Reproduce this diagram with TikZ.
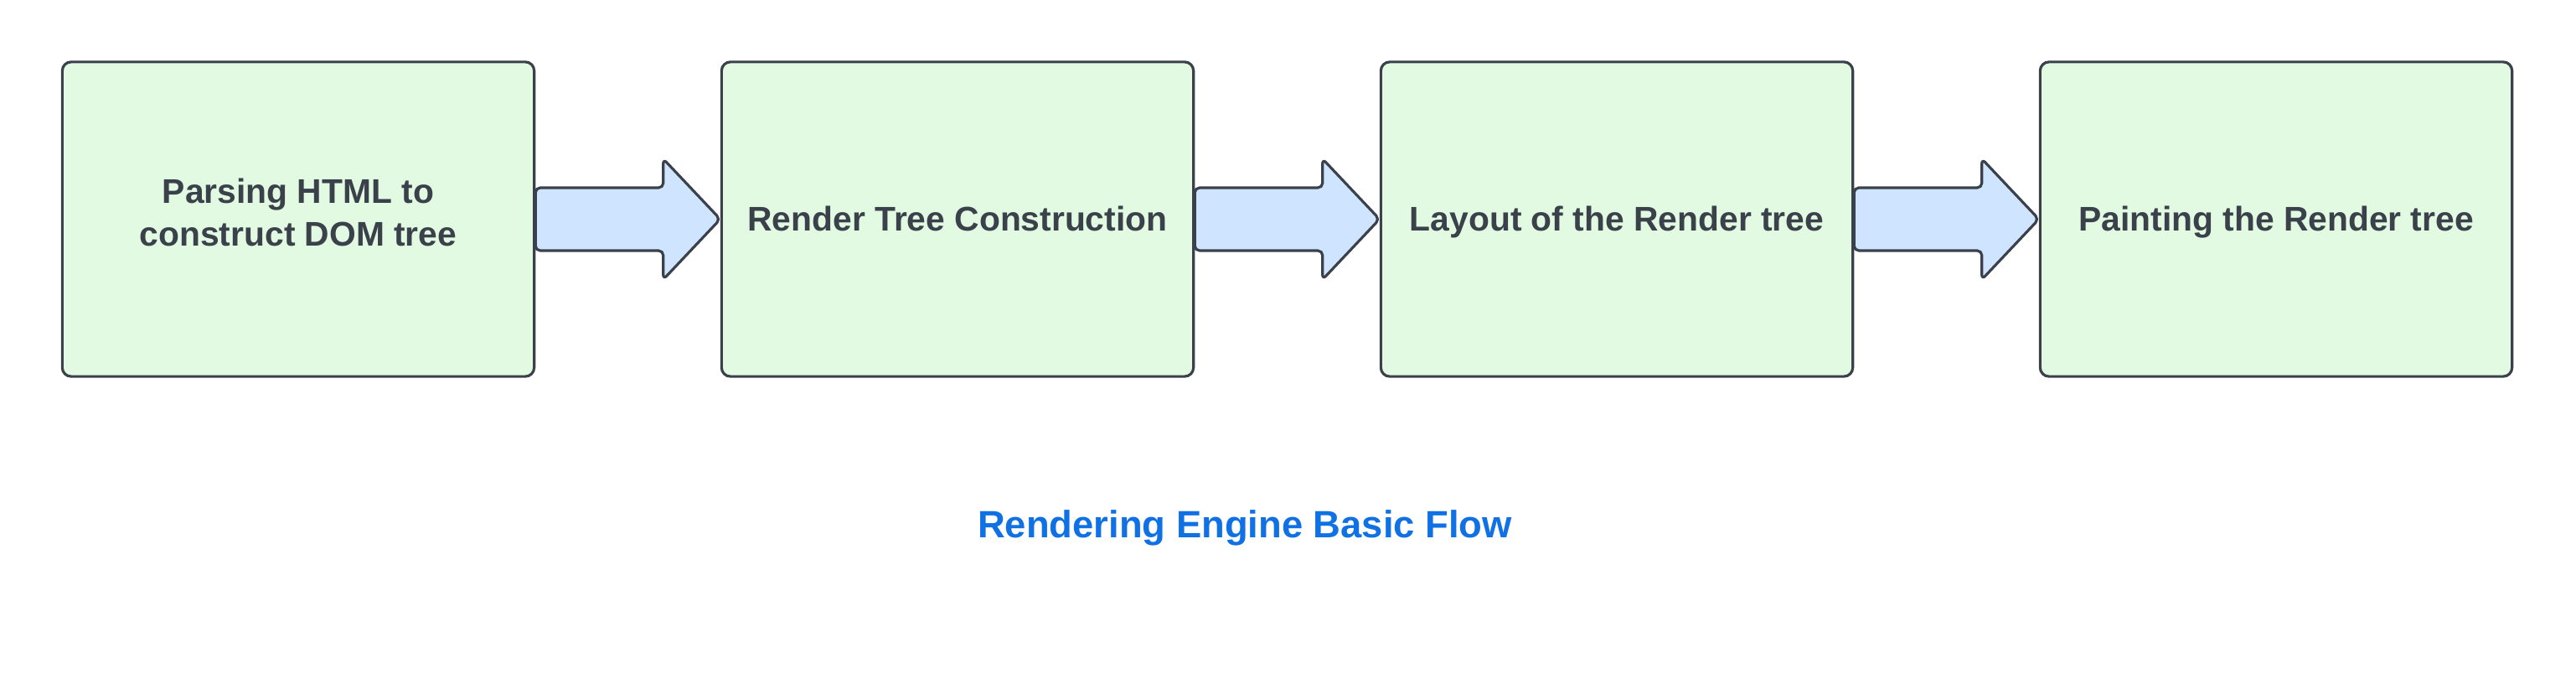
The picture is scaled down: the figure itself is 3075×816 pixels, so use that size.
\documentclass[tikz,border=0pt]{standalone}
\usepackage{fontspec}
\setmainfont{Liberation Sans}
\usetikzlibrary{calc}
\definecolor{boxfill}{HTML}{E2FAE1}
\definecolor{arrowfill}{HTML}{CFE4FF}
\definecolor{strokec}{HTML}{3A414A}
\definecolor{titlec}{HTML}{1071E5}
\newcommand{\oneline}[1]{\raisebox{0pt}[7.7pt][0pt]{#1}}
\newcommand{\twolines}[2]{\raisebox{0pt}[18.2pt][0pt]{\begin{tabular}[b]{@{}c@{}}#1\\#2\end{tabular}}}
\begin{document}
\begin{tikzpicture}[x=0.01cm,y=-0.01cm,
  stepbox/.style={draw=strokec, fill=boxfill, line width=0.9pt, rounded corners=3pt,
    minimum width=5.63cm, minimum height=3.75cm, inner sep=0pt, align=center,
    text=strokec, font=\fontsize{11.6pt}{14.6pt}\selectfont\bfseries},
  fatarrow/.style={draw=strokec, fill=arrowfill, line width=0.9pt, rounded corners=1.6pt, line join=round}]
\useasboundingbox[fill=white] (0,0) rectangle (3075,816);
\node[stepbox] (b1) at (356,261.5) {\twolines{Parsing HTML to}{construct DOM tree}};
\node[stepbox] (b2) at (1143,261.5) {\oneline{Render Tree Construction}};
\node[stepbox] (b3) at (1930,261.5) {\oneline{Layout of the Render tree}};
\node[stepbox] (b4) at (2717,261.5) {\oneline{Painting the Render tree}};
\foreach \a/\b in {b1/b2,b2/b3,b3/b4}{
  \draw[fatarrow] ($(\a.east)+(0,-37.5)$) -- ($(\b.west)+(-68,-37.5)$) -- ($(\b.west)+(-68,-72)$)
    -- (\b.west) -- ($(\b.west)+(-68,72)$) -- ($(\b.west)+(-68,37.5)$) -- ($(\a.east)+(0,37.5)$) -- cycle;
}
\node[anchor=base, text=titlec, font=\fontsize{12.9pt}{15pt}\selectfont\bfseries] (title) at (1486,642) {Rendering Engine Basic Flow};
\end{tikzpicture}
\end{document}
